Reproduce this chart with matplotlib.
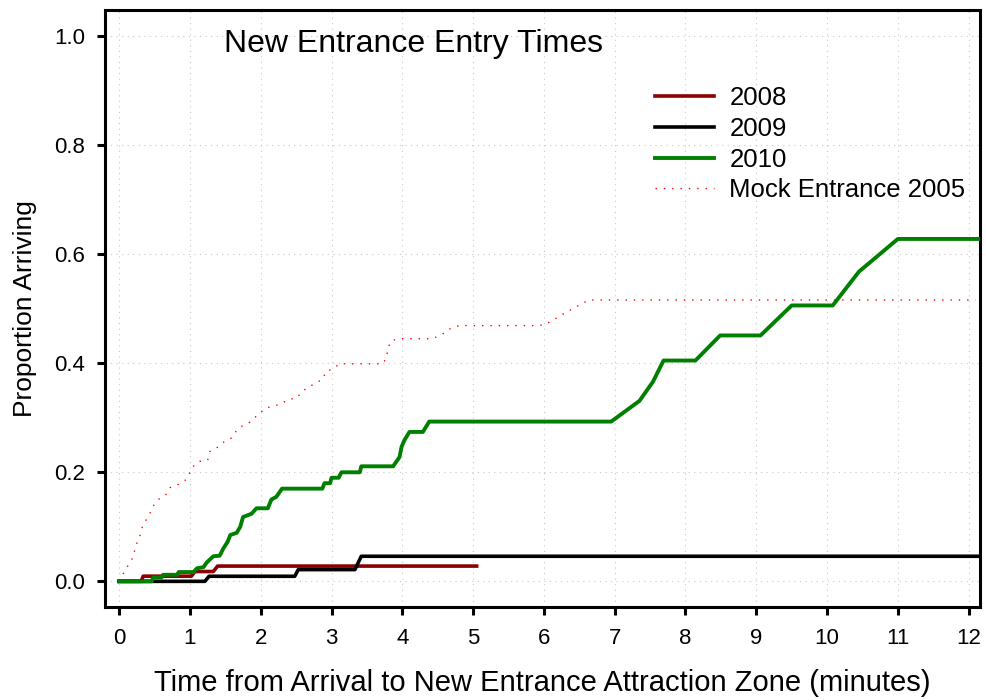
import matplotlib
matplotlib.use("Agg")
import matplotlib.pyplot as plt

plt.rcParams['font.family'] = ['Liberation Sans', 'DejaVu Sans']

# cumulative proportion arriving vs minutes since arrival
t2008 = [0, 0.31, 0.34, 1.02, 1.07, 1.33, 1.39, 5.05]
p2008 = [0, 0, 0.0095, 0.0095, 0.018, 0.018, 0.028, 0.028]

t2009 = [0, 1.21, 1.27, 2.48, 2.53, 3.33, 3.42, 12.2]
p2009 = [0, 0, 0.0093, 0.0093, 0.0215, 0.0215, 0.046, 0.046]

t2010 = [0, 0.46, 0.48, 0.6, 0.62, 0.82, 0.84, 1.05, 1.1, 1.19, 1.24, 1.33,
         1.42, 1.47, 1.53, 1.57, 1.66, 1.71, 1.75, 1.87, 1.94, 2.1, 2.15,
         2.22, 2.3, 2.87, 2.9, 2.98, 3.0, 3.1, 3.14, 3.4, 3.42, 3.87, 3.96,
         3.99, 4.03, 4.1, 4.29, 4.38, 6.95, 7.35, 7.54, 7.69, 8.14, 8.49,
         9.06, 9.5, 10.08, 10.45, 11.0, 12.2]
p2010 = [0, 0, 0.007, 0.007, 0.012, 0.012, 0.017, 0.017, 0.024, 0.026, 0.035,
         0.046, 0.047, 0.06, 0.072, 0.085, 0.089, 0.1, 0.118, 0.124, 0.134,
         0.134, 0.15, 0.155, 0.17, 0.17, 0.18, 0.18, 0.19, 0.19, 0.2, 0.2,
         0.211, 0.211, 0.228, 0.247, 0.259, 0.274, 0.274, 0.293, 0.293,
         0.331, 0.366, 0.405, 0.405, 0.451, 0.451, 0.506, 0.506, 0.568,
         0.628, 0.628]

tmock = [0, 0.07, 0.13, 0.19, 0.22, 0.25, 0.3, 0.33, 0.4, 0.46, 0.5, 0.58,
         0.67, 0.72, 0.84, 0.93, 0.99, 1.03, 1.13, 1.25, 1.28, 1.39, 1.5,
         1.59, 1.66, 1.74, 1.85, 1.93, 2.01, 2.07, 2.18, 2.29, 2.4, 2.51,
         2.58, 2.66, 2.78, 2.88, 2.92, 3.03, 3.11, 3.72, 3.78, 3.79, 3.84,
         3.94, 4.42, 4.55, 4.67, 4.8, 5.9, 6.02, 6.14, 6.27, 6.39, 6.52,
         6.63, 12.1]
pmock = [0, 0.017, 0.03, 0.043, 0.057, 0.07, 0.086, 0.101, 0.117, 0.131,
         0.143, 0.153, 0.16, 0.172, 0.178, 0.185, 0.197, 0.209, 0.22, 0.222,
         0.238, 0.246, 0.258, 0.263, 0.277, 0.285, 0.292, 0.302, 0.311,
         0.318, 0.321, 0.326, 0.334, 0.336, 0.348, 0.355, 0.364, 0.371,
         0.385, 0.39, 0.399, 0.399, 0.41, 0.425, 0.441, 0.445, 0.445, 0.452,
         0.463, 0.469, 0.469, 0.471, 0.48, 0.49, 0.499, 0.508, 0.516, 0.516]

fig = plt.figure(figsize=(9.86, 7.0), dpi=100)
ax = fig.add_axes([0.1065, 0.1329, 0.8874, 0.8529])

ax.plot(t2008, p2008, color='#8b0000', lw=2.6, label='2008', zorder=3)
ax.plot(t2009, p2009, color='black', lw=2.6, label='2009', zorder=3)
ax.plot(t2010, p2010, color='#008000', lw=2.8, label='2010', zorder=4)
ax.plot(tmock, pmock, color='red', lw=1.0, ls=(0, (1, 5)),
        label='Mock Entrance 2005', zorder=2)

ax.set_xlim(-0.2, 12.16)
ax.set_ylim(-0.047, 1.048)
ax.set_xticks(range(0, 13))
ax.set_yticks([0.0, 0.2, 0.4, 0.6, 0.8, 1.0])
ax.set_yticklabels(['0.0', '0.2', '0.4', '0.6', '0.8', '1.0'])
ax.grid(True, color='#c8c8c8', lw=0.8, ls=(0, (1, 4)))
ax.set_axisbelow(True)

for s in ax.spines.values():
    s.set_linewidth(2.2)
ax.tick_params(direction='out', length=5.5, width=2.2, labelsize=16, pad=9)
ax.tick_params(axis='x', pad=10)

ax.set_xlabel('Time from Arrival to New Entrance Attraction Zone (minutes)',
              fontsize=21, labelpad=14)
ax.set_ylabel('Proportion Arriving', fontsize=19, labelpad=12)

ax.text(1.48, 0.985, 'New Entrance Entry Times', fontsize=23, va='center',
        ha='left')

ax.legend(loc='upper left', bbox_to_anchor=(0.629, 0.872), frameon=False,
          fontsize=18.5, handlelength=2.3, handletextpad=0.58,
          labelspacing=0.26, borderpad=0, borderaxespad=0)

fig.savefig('out.png', dpi=100)
